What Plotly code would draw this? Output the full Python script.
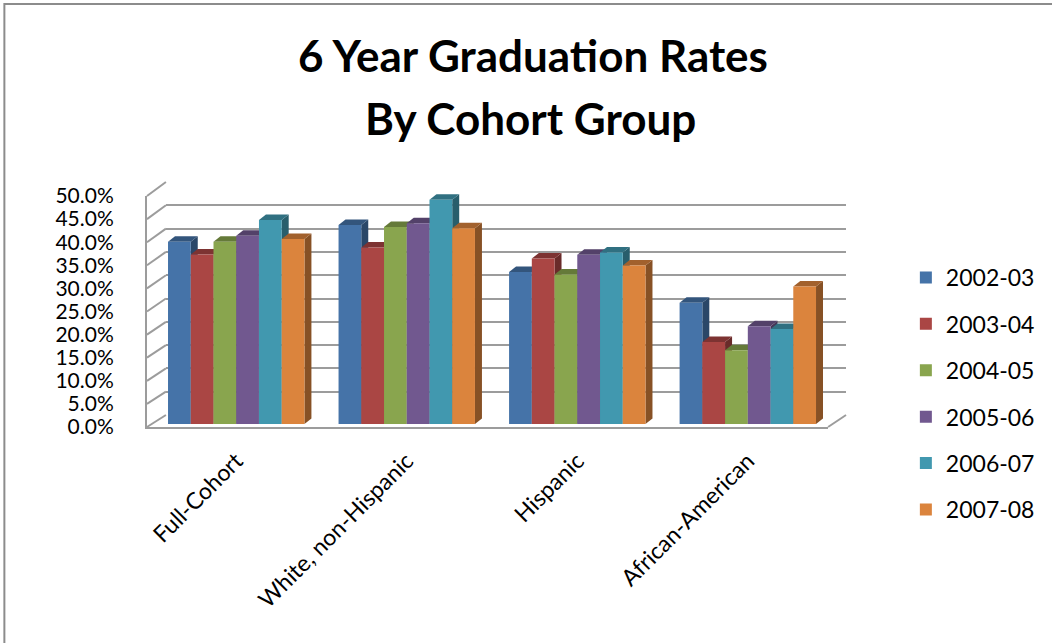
import plotly.graph_objects as go

# ---- data -------------------------------------------------------------
categories = ["Full-Cohort", "White, non-Hispanic", "Hispanic", "African-American"]
cohorts = ["2002-03", "2003-04", "2004-05", "2005-06", "2006-07", "2007-08"]

# six-year graduation rate (%) per cohort, in category order
rate_2002_03 = [39.1, 42.7, 32.6, 26.0]
rate_2003_04 = [36.4, 37.9, 35.5, 17.6]
rate_2004_05 = [39.1, 42.3, 32.1, 15.8]
rate_2005_06 = [40.4, 43.1, 36.3, 21.0]
rate_2006_07 = [43.8, 48.1, 36.8, 20.4]
rate_2007_08 = [39.7, 42.0, 34.0, 29.5]
rates = [rate_2002_03, rate_2003_04, rate_2004_05,
         rate_2005_06, rate_2006_07, rate_2007_08]

tick_values = [0, 5, 10, 15, 20, 25, 30, 35, 40, 45, 50]

colors = ["#4573A8", "#AA4644", "#89A54E", "#71588F", "#4198AF", "#DB843D"]

# ---- geometry helpers (pixels -> plot-area fractions) ------------------
W, H = 1052, 643
PL, PR, PT, PB = 140, 860, 170, 440   # plot area box in pixels


def fx(px):
    return (px - PL) / (PR - PL)


def fy(py):
    return (PB - py) / (PB - PT)


# front plane, back wall and bar plane of the pseudo-3D box (pixels)
FRONT = dict(x0=147, x1=830, y0=427, y50=196)
BACK = dict(x0=166, x1=848, y0=415, y50=182)
BARS = dict(x0=151, x1=835, y0=424, y50=191)
DEPTH_DX, DEPTH_DY = 7, 5.5          # bar depth offset in pixels


def plane_y(plane, v):
    return plane["y0"] + (plane["y50"] - plane["y0"]) * v / 50.0


def darker(hex_color, f):
    r, g, b = (int(hex_color[i:i + 2], 16) for i in (1, 3, 5))
    return "rgb(%d,%d,%d)" % (r * f, g * f, b * f)


fig = go.Figure()

# back-wall grid subplot (x / y) needs a trace so it is drawn
fig.add_trace(go.Scatter(x=[None], y=[None], xaxis="x", yaxis="y",
                         showlegend=False, hoverinfo="skip"))
# front plane (labels + edges)
fig.add_trace(go.Scatter(x=[None], y=[None], xaxis="x2", yaxis="y2",
                         showlegend=False, hoverinfo="skip"))

# bars
for name, vals, col in zip(cohorts, rates, colors):
    fig.add_trace(go.Bar(
        x=categories, y=vals, name=name, xaxis="x3", yaxis="y3",
        marker=dict(color=col, line=dict(width=0)),
        legendgroup=name,
        hovertemplate="%{x}<br>" + name + ": %{y:.1f}%<extra></extra>",
    ))

shapes = []

# depth faces (top and right side) of every bar, from the bar values
n = len(cohorts)
bargap = 0.2
bw = (1 - bargap) / n
cat_px = (BARS["x1"] - BARS["x0"]) / len(categories)
dx = DEPTH_DX / cat_px
dy = DEPTH_DY / ((BARS["y0"] - BARS["y50"]) / 50.0)
for j, (vals, col) in enumerate(zip(rates, colors)):
    for i, v in enumerate(vals):
        xl = i - (1 - bargap) / 2 + j * bw
        xr = xl + bw
        side = "M%f,0 L%f,%f L%f,%f L%f,%f Z" % (
            xr, xr + dx, dy, xr + dx, v + dy, xr, v)
        top = "M%f,%f L%f,%f L%f,%f L%f,%f Z" % (
            xl, v, xr, v, xr + dx, v + dy, xl + dx, v + dy)
        shapes.append(dict(type="path", path=side, xref="x3", yref="y3",
                           fillcolor=darker(col, 0.62), line=dict(width=0),
                           layer="between"))
        shapes.append(dict(type="path", path=top, xref="x3", yref="y3",
                           fillcolor=darker(col, 0.74), line=dict(width=0),
                           layer="between"))

# left side wall lines connecting front axis ticks to back-wall gridlines
WALL = "#9c9c9c"
for t in tick_values:
    shapes.append(dict(type="line", xref="paper", yref="paper",
                       x0=fx(FRONT["x0"]), y0=fy(plane_y(FRONT, t)),
                       x1=fx(BACK["x0"]), y1=fy(plane_y(BACK, t)),
                       line=dict(color=WALL, width=2), layer="below"))
# floor right edge
shapes.append(dict(type="line", xref="paper", yref="paper",
                   x0=fx(FRONT["x1"]), y0=fy(FRONT["y0"]),
                   x1=fx(BACK["x1"]), y1=fy(BACK["y0"]),
                   line=dict(color=WALL, width=2), layer="below"))
# outer chart border
shapes.append(dict(type="rect", xref="paper", yref="paper",
                   x0=fx(4), y0=fy(4), x1=fx(W + 20), y1=fy(H + 20),
                   line=dict(color="#8c8c8c", width=2), layer="below"))

FONT = "Lato, 'Noto Sans', sans-serif"

fig.update_layout(
    width=W, height=H,
    margin=dict(l=PL, r=W - PR, t=PT, b=H - PB, pad=0),
    paper_bgcolor="white",
    plot_bgcolor="rgba(0,0,0,0)",
    font=dict(family=FONT, size=23, color="black"),
    barmode="group", bargap=bargap, bargroupgap=0,
    showlegend=True,
    legend=dict(x=fx(908), y=fy(256), xanchor="left", yanchor="top",
                xref="paper", yref="paper", maxheight=600,
                font=dict(family=FONT, size=23, color="black"),
                tracegroupgap=13.5, bgcolor="rgba(0,0,0,0)"),
    shapes=shapes,
    # back wall gridlines
    xaxis=dict(domain=[fx(BACK["x0"]), fx(BACK["x1"])], range=[0, 1],
               showgrid=False, zeroline=False, showticklabels=False,
               showline=False, anchor="y", fixedrange=True),
    yaxis=dict(domain=[fy(BACK["y0"]), fy(BACK["y50"])], range=[0, 50],
               tickvals=tick_values, showgrid=True, gridcolor=WALL,
               gridwidth=2, zeroline=False, showticklabels=False,
               showline=False, anchor="x", fixedrange=True),
    # front plane: value axis labels, front edges
    xaxis2=dict(domain=[fx(FRONT["x0"]), fx(FRONT["x1"])], range=[0, 1],
                showgrid=False, zeroline=False, showticklabels=False,
                showline=True, linecolor=WALL, linewidth=2,
                anchor="y2", fixedrange=True),
    yaxis2=dict(domain=[fy(FRONT["y0"]), fy(FRONT["y50"])], range=[0, 50],
                tickvals=tick_values,
                ticktext=["%.1f%%" % t for t in tick_values],
                showgrid=False, zeroline=False, showline=True,
                linecolor=WALL, linewidth=2, ticks="",
                ticklabelstandoff=27,
                tickfont=dict(family=FONT, size=21, color="black"),
                anchor="x2", fixedrange=True),
    # bars
    xaxis3=dict(domain=[fx(BARS["x0"]), fx(BARS["x1"])],
                range=[-0.5, len(categories) - 0.5], type="category",
                showgrid=False, zeroline=False, showline=False, ticks="",
                tickangle=-45, ticklabelstandoff=18,
                tickfont=dict(family=FONT, size=23, color="black"),
                anchor="y3", fixedrange=True),
    yaxis3=dict(domain=[fy(BARS["y0"]), fy(BARS["y50"])], range=[0, 50],
                showgrid=False, zeroline=False, showline=False,
                showticklabels=False, anchor="x3", fixedrange=True),
    annotations=[
        dict(text="<b>6 Year Graduation Rates</b>", xref="paper", yref="paper",
             x=fx(534), y=fy(55), xanchor="center", yanchor="middle",
             showarrow=False,
             font=dict(family=FONT, size=44, color="black")),
        dict(text="<b>By Cohort Group</b>", xref="paper", yref="paper",
             x=fx(532), y=fy(118), xanchor="center", yanchor="middle",
             showarrow=False,
             font=dict(family=FONT, size=44, color="black")),
    ],
)

fig.write_html("out.html")
